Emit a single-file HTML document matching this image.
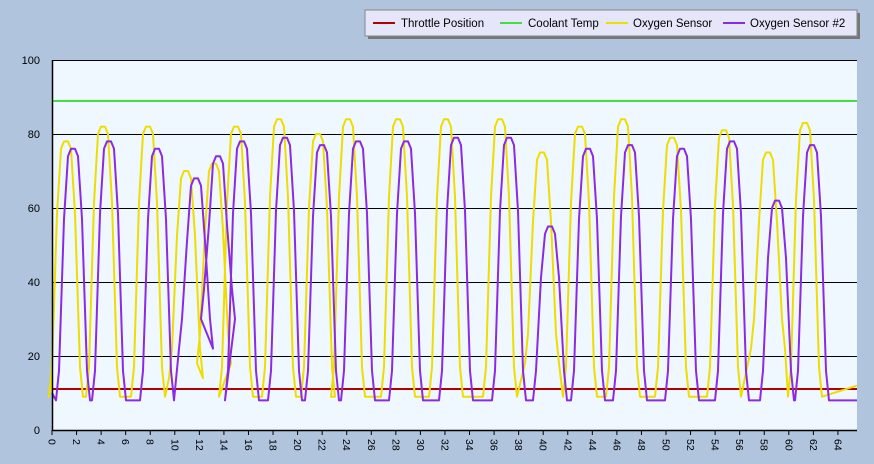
<!DOCTYPE html>
<html><head><style>
body{margin:0;background:#b0c4de;font-family:"Liberation Sans",sans-serif;}
</style></head><body>
<svg width="874" height="464" xmlns="http://www.w3.org/2000/svg" style="display:block">
<rect width="874" height="464" fill="#b0c4de"/>
<rect x="368" y="13" width="492" height="26" fill="#777"/>
<rect x="365" y="10" width="492" height="26" fill="#e6e6fa" stroke="#888"/>
<line x1="373" y1="23" x2="395" y2="23" stroke="#b00000" stroke-width="2"/>
<text x="401" y="27" font-size="11.5">Throttle Position</text>
<line x1="500" y1="23" x2="522" y2="23" stroke="#44dd44" stroke-width="2"/>
<text x="528" y="27" font-size="11.5">Coolant Temp</text>
<line x1="606" y1="23" x2="628" y2="23" stroke="#eedd00" stroke-width="2"/>
<text x="633" y="27" font-size="11.5">Oxygen Sensor</text>
<line x1="723" y1="23" x2="745" y2="23" stroke="#8a2be2" stroke-width="2"/>
<text x="750" y="27" font-size="11.5">Oxygen Sensor #2</text>
<rect x="52" y="60" width="805" height="370" fill="#f0f8ff"/>
<g stroke="#000" stroke-width="1">
<line x1="52" y1="60.5" x2="857" y2="60.5"/>
<line x1="52" y1="134.5" x2="857" y2="134.5"/>
<line x1="52" y1="208.5" x2="857" y2="208.5"/>
<line x1="52" y1="282.5" x2="857" y2="282.5"/>
<line x1="52" y1="356.5" x2="857" y2="356.5"/>
</g>
<g font-size="11" text-anchor="end">
<text x="40" y="64">100</text><text x="40" y="138">80</text><text x="40" y="212">60</text>
<text x="40" y="286">40</text><text x="40" y="360">20</text><text x="40" y="434">0</text>
</g>
<g id="xt" font-size="10.5"></g>
<line x1="52" y1="101" x2="857" y2="101" stroke="#44dd44" stroke-width="2"/>
<line x1="52" y1="389" x2="857" y2="389" stroke="#b00000" stroke-width="2"/>
<path id="y" fill="none" stroke="#eedd00" stroke-width="2" stroke-linejoin="round"/>
<path id="p" fill="none" stroke="#8a2be2" stroke-width="2" stroke-linejoin="round"/>
<line x1="52.5" y1="60" x2="52.5" y2="431" stroke="#000" stroke-width="1.5"/>
<line x1="52" y1="430.5" x2="857" y2="430.5" stroke="#000" stroke-width="1.5"/>
</svg>
<script>
const Y=v=>430-v*3.7;
let xt=document.getElementById('xt'),s='';
for(let i=0;i<=64;i+=2){let x=52+i*12.28;s+=`<line x1="${x}" y1="430" x2="${x}" y2="435" stroke="#000"/><text transform="translate(${x-3.5},439) rotate(90)">${i}</text>`;}
xt.innerHTML=s;
function build(peaks,trough,start,end){
 let d=`M52,${Y(start)}`;
 peaks.forEach(([c,v,t])=>{let tr=t??trough;
  d+=` L${c-17},${Y(tr)} L${c-14},${Y(tr+8)} L${c-9},${Y(v*0.75)} L${c-5},${Y(v-2)} L${c-2},${Y(v)} L${c+2},${Y(v)} L${c+5},${Y(v-2)} L${c+9},${Y(v*0.75)} L${c+14},${Y(tr+8)} L${c+17},${Y(tr)}`;});
 d+=` L857,${Y(end)}`;return d;}
document.getElementById('y').setAttribute('d',build([[66,78],[103,82],[148,82],[186,70,14],[214,72,18],[236,82],[279,84],[318,80],[348,84],[398,84],[446,84],[500,84],[542,75,18],[580,82],[623,84],[672,79],[724,81],[768,75,22],[805,83]],9,13,12));
document.getElementById('p').setAttribute('d',build([[73,76],[109,78],[157,76],[196,68,22],[218,74,30],[242,78],[285,79],[322,77],[358,78],[406,78],[456,79],[509,79],[550,55],[588,76],[630,77],[682,76],[732,78],[777,62],[812,77]],8,10,8));
</script>
</body></html>
